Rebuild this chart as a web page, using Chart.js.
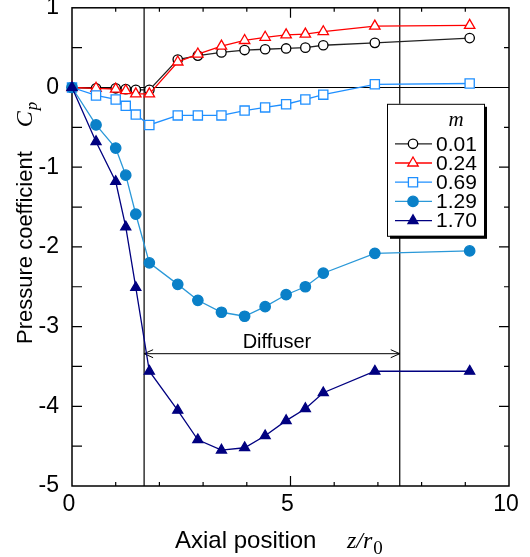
<!DOCTYPE html>
<html>
<head>
<meta charset="utf-8">
<script src="https://cdn.jsdelivr.net/npm/chart.js@4.4.1/dist/chart.umd.min.js"></script>
<style>
  html, body { margin: 0; padding: 0; background: #fff; }
  #wrap { width: 530px; height: 557px; }
</style>
</head>
<body>
<div id="wrap"><canvas id="c" width="530" height="557"></canvas></div>
<script>
// axial tap positions z/r0
const zPos = [0, 0.55, 1.0, 1.23, 1.46, 1.77, 2.42, 2.88, 3.42, 3.95, 4.42, 4.9, 5.34, 5.75, 6.93, 9.1];

// pressure coefficient Cp for each m
const cp001 = [0, -0.01, -0.01, -0.02, -0.03, -0.03, 0.35, 0.40, 0.44, 0.47, 0.48, 0.49, 0.50, 0.53, 0.56, 0.62];
const cp024 = [0, -0.01, -0.02, -0.04, -0.08, -0.08, 0.32, 0.42, 0.52, 0.59, 0.63, 0.66, 0.67, 0.70, 0.77, 0.78];
const cp069 = [0, -0.10, -0.15, -0.23, -0.34, -0.47, -0.35, -0.35, -0.35, -0.29, -0.25, -0.21, -0.15, -0.09, 0.04, 0.05];
const cp129 = [0, -0.47, -0.76, -1.10, -1.59, -2.20, -2.47, -2.67, -2.82, -2.87, -2.75, -2.60, -2.50, -2.33, -2.08, -2.05];
const cp170 = [0, -0.68, -1.18, -1.75, -2.51, -3.56, -4.05, -4.42, -4.55, -4.52, -4.37, -4.18, -4.03, -3.83, -3.56, -3.56];

const mLabels = ['0.01', '0.24', '0.69', '1.29', '1.70'];
const xTickValues = [0, 5, 10];
const yTickValues = [1, 0, -1, -2, -3, -4, -5];

// diffuser section and its arrow level
const diffuserStart = 1.65;
const diffuserEnd = 7.5;
const diffuserArrowY = -3.34;

const SANS = '"Liberation Sans", Arial, sans-serif';
const SERIF = '"Liberation Serif", "Times New Roman", serif';

const looks = [
  { line: '#222222', edge: '#000000', fill: '#ffffff', shape: 'circle',   r: 4.7 },
  { line: '#ff0000', edge: '#ff0000', fill: '#ffffff', shape: 'triangle', r: 6 },
  { line: '#1e8fff', edge: '#1e8fff', fill: '#ffffff', shape: 'rect',     r: 6.5 },
  { line: '#2a98d8', edge: '#0a80c8', fill: '#0a80c8', shape: 'circle',   r: 5.2 },
  { line: '#000080', edge: '#000080', fill: '#000080', shape: 'triangle', r: 5.8 }
];

const allSeries = [cp001, cp024, cp069, cp129, cp170];

const datasets = allSeries.map((vals, i) => ({
  label: mLabels[i],
  data: vals.map((v, k) => ({ x: zPos[k], y: v })),
  borderColor: looks[i].line,
  borderWidth: 1.3,
  pointStyle: looks[i].shape,
  pointRadius: looks[i].r,
  pointBorderColor: looks[i].edge,
  pointBackgroundColor: looks[i].fill,
  pointBorderWidth: 1.3,
  tension: 0,
  clip: false,
  order: 4 - i
}));

/* ---------- frame, ticks, reference lines, titles, legend ---------- */
const decor = {
  id: 'decor',
  beforeDatasetsDraw(chart) {
    const { ctx, chartArea: a, scales: { x, y } } = chart;
    ctx.save();
    ctx.strokeStyle = '#000';
    ctx.lineWidth = 1.2;

    // zero line and diffuser bounds
    const y0 = y.getPixelForValue(0);
    ctx.beginPath();
    ctx.moveTo(a.left, y0); ctx.lineTo(a.right, y0);
    [diffuserStart, diffuserEnd].forEach(v => {
      const px = x.getPixelForValue(v);
      ctx.moveTo(px, a.top); ctx.lineTo(px, a.bottom);
    });
    ctx.stroke();

    // diffuser arrow
    const ay = y.getPixelForValue(diffuserArrowY);
    const ax1 = x.getPixelForValue(diffuserStart), ax2 = x.getPixelForValue(diffuserEnd);
    ctx.lineWidth = 1;
    ctx.beginPath();
    ctx.moveTo(ax1, ay); ctx.lineTo(ax2, ay);
    ctx.moveTo(ax1 + 9, ay - 4); ctx.lineTo(ax1, ay); ctx.lineTo(ax1 + 9, ay + 4);
    ctx.moveTo(ax2 - 9, ay - 4); ctx.lineTo(ax2, ay); ctx.lineTo(ax2 - 9, ay + 4);
    ctx.stroke();
    ctx.fillStyle = '#000';
    ctx.font = '20px ' + SANS;
    ctx.textAlign = 'center';
    ctx.textBaseline = 'alphabetic';
    ctx.fillText('Diffuser', (ax1 + ax2) / 2 + 5, ay - 6);

    // frame
    ctx.lineWidth = 1.5;
    ctx.strokeRect(a.left, a.top, a.right - a.left, a.bottom - a.top);

    // inward ticks
    ctx.lineWidth = 1.2;
    ctx.beginPath();
    for (let v = 1; v < 10; v++) {
      const px = x.getPixelForValue(v);
      const len = v % 5 === 0 ? 10 : 4;
      ctx.moveTo(px, a.bottom); ctx.lineTo(px, a.bottom - len);
      ctx.moveTo(px, a.top); ctx.lineTo(px, a.top + len);
    }
    for (let v = -4.5; v < 1; v += 0.5) {
      const py = y.getPixelForValue(v);
      const whole = Number.isInteger(v);
      ctx.moveTo(a.left, py); ctx.lineTo(a.left + 10, py);
      ctx.moveTo(a.right, py); ctx.lineTo(a.right - (whole ? 10 : 5), py);
    }
    ctx.stroke();
    ctx.restore();
  },
  afterDraw(chart) {
    const { ctx, chartArea: a } = chart;
    ctx.save();
    ctx.fillStyle = '#000';
    ctx.textBaseline = 'alphabetic';
    ctx.textAlign = 'left';

    // x title
    let tx = 175, ty = 548;
    ctx.font = '24px ' + SANS;
    ctx.fillText('Axial position', tx, ty);
    ctx.font = 'italic 24px ' + SERIF;
    ctx.fillText('z/r', 347, ty);
    const zw = ctx.measureText('z/r').width;
    ctx.font = '19px ' + SERIF;
    ctx.fillText('0', 347 + zw + 1, ty + 6);

    // y title (rotated)
    ctx.translate(32, 344);
    ctx.rotate(-Math.PI / 2);
    ctx.font = '22px ' + SANS;
    ctx.fillText('Pressure coefficient', 0, 0);
    const pw = ctx.measureText('Pressure coefficient').width;
    ctx.font = 'italic 24px ' + SERIF;
    ctx.fillText('C', pw + 24, 0);
    const cw = ctx.measureText('C').width;
    ctx.font = 'italic 17px ' + SERIF;
    ctx.fillText('p', pw + 24 + cw + 1, 5);
    ctx.setTransform(1, 0, 0, 1, 0, 0);

    // legend box with shadow
    const bx = a.right - 122, by = a.top + 96, bw = 97, bh = 132;
    ctx.fillStyle = '#000';
    ctx.fillRect(bx + 3, by + 3, bw, bh);
    ctx.fillStyle = '#fff';
    ctx.fillRect(bx, by, bw, bh);
    ctx.strokeStyle = '#000';
    ctx.lineWidth = 1;
    ctx.strokeRect(bx + 0.5, by + 0.5, bw, bh);

    ctx.fillStyle = '#000';
    ctx.font = 'italic 21px ' + SERIF;
    ctx.textAlign = 'center';
    ctx.textBaseline = 'middle';
    ctx.fillText('m', bx + 69, by + 17);

    ctx.textAlign = 'left';
    ctx.font = '21px ' + SANS;
    chart.data.datasets.forEach((ds, i) => {
      const ry = by + 40 + i * 19.2;
      ctx.strokeStyle = ds.borderColor;
      ctx.lineWidth = 1.3;
      ctx.beginPath();
      ctx.moveTo(bx + 8, ry); ctx.lineTo(bx + 45, ry);
      ctx.stroke();
      ctx.fillStyle = ds.pointBackgroundColor;
      ctx.strokeStyle = ds.pointBorderColor;
      Chart.helpers.drawPoint(ctx, { pointStyle: ds.pointStyle, radius: ds.pointRadius, borderWidth: 1.3 }, bx + 26, ry);
      ctx.fillStyle = '#000';
      ctx.fillText(ds.label, bx + 49, ry + 1);
    });
    ctx.restore();
  }
};

new Chart(document.getElementById('c'), {
  type: 'line',
  data: { datasets },
  options: {
    responsive: false,
    animation: false,
    devicePixelRatio: 1,
    layout: { padding: { top: 5, right: 21, left: 0, bottom: 0 } },
    plugins: { legend: { display: false }, tooltip: { enabled: false } },
    scales: {
      x: {
        type: 'linear', min: 0, max: 10,
        afterBuildTicks: s => { s.ticks = xTickValues.map(v => ({ value: v })); },
        afterFit: s => { s.height = 71; s.paddingLeft = 0; s.paddingRight = 0; },
        grid: { display: false, drawTicks: false },
        border: { display: false },
        ticks: { color: '#000', font: { family: SANS, size: 23 }, padding: 5, labelOffset: -3, maxRotation: 0 }
      },
      y: {
        type: 'linear', min: -5, max: 1,
        afterBuildTicks: s => { s.ticks = yTickValues.map(v => ({ value: v })); },
        afterFit: s => { s.width = 72; s.paddingTop = 0; s.paddingBottom = 0; },
        grid: { display: false, drawTicks: false },
        border: { display: false },
        ticks: { color: '#000', font: { family: SANS, size: 23 }, padding: 13 }
      }
    }
  },
  plugins: [decor]
});
</script>
</body>
</html>
